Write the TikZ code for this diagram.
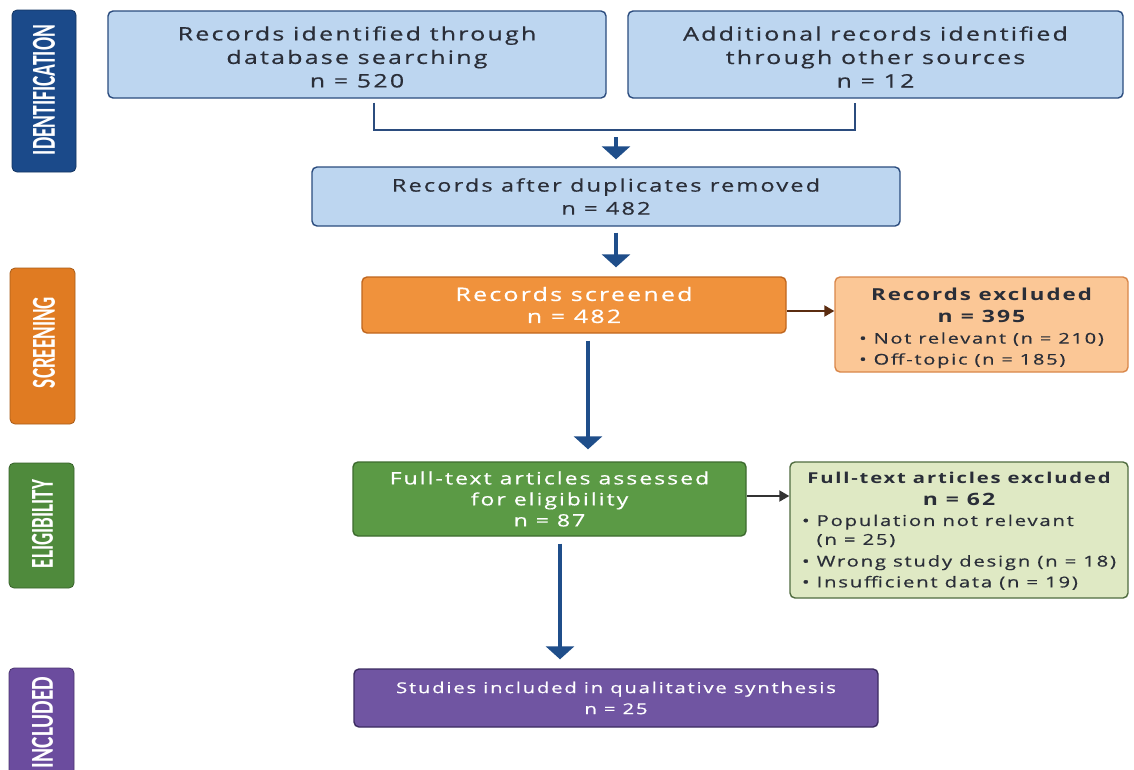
\documentclass[tikz,border=0pt]{standalone}
\usepackage{fontspec}
\setmainfont{Open Sans}[FakeStretch=1.35, LetterSpace=12, UprightFeatures={FakeBold=0.6}]
\newfontfamily\sidefont{Carlito}
\usetikzlibrary{arrows.meta,calc}
\definecolor{idblue}{HTML}{1B4A8A}
\definecolor{scrorange}{HTML}{E07B22}
\definecolor{eliggreen}{HTML}{4F8A3C}
\definecolor{inclpurple}{HTML}{6B4C9E}
\definecolor{lightblue}{HTML}{BDD6F0}
\definecolor{blueborder}{HTML}{2B4C7E}
\definecolor{arrowblue}{HTML}{1F4E8A}
\definecolor{orangefill}{HTML}{F0923C}
\definecolor{orangeborder}{HTML}{C0661E}
\definecolor{peachfill}{HTML}{FBC796}
\definecolor{peachborder}{HTML}{D9874A}
\definecolor{greenfill}{HTML}{5B9A45}
\definecolor{greenborder}{HTML}{3D6B2E}
\definecolor{lgreenfill}{HTML}{DFE9C4}
\definecolor{lgreenborder}{HTML}{506C40}
\definecolor{purplefill}{HTML}{7055A2}
\definecolor{purpleborder}{HTML}{3B2B60}
\definecolor{textdark}{HTML}{2A2E38}
\definecolor{brownarrow}{HTML}{5B2C10}
\definecolor{grayarrow}{HTML}{333333}
\begin{document}
\begin{tikzpicture}[x=1pt,y=-1pt,
  box/.style={draw, line width=1.4pt, rounded corners=5pt, inner sep=0pt, align=center},
  sidebar/.style={draw, line width=0.8pt, rounded corners=5pt, inner sep=0pt},
  sidetext/.style={rotate=90, inner sep=0pt, text=white},
  mainarrow/.style={draw=arrowblue, line width=4pt, -{Triangle[width=28pt,length=13pt]}},
  bracketline/.style={draw=blueborder, line width=1.6pt},
  smallarrow/.style={line width=2pt, -{Triangle[width=11pt,length=10pt]}}
]
\useasboundingbox[fill=white] (0,0) rectangle (1134,769);

% side bars
\node[sidebar, fill=idblue, draw=idblue!70!black, minimum width=64pt, minimum height=162pt] (s1) at (44,91) {};
\node[sidetext] (t1) at (44,90) {\resizebox{130pt}{22pt}{\sidefont\bfseries IDENTIFICATION}};
\node[sidebar, fill=scrorange, draw=scrorange!75!black, minimum width=65pt, minimum height=156pt] (s2) at (42.5,346) {};
\node[sidetext] (t2) at (44,342.5) {\resizebox{91pt}{22pt}{\sidefont\bfseries SCREENING}};
\node[sidebar, fill=eliggreen, draw=eliggreen!70!black, minimum width=65pt, minimum height=125pt] (s3) at (41.5,525.5) {};
\node[sidetext] (t3) at (42.5,524) {\resizebox{88pt}{21pt}{\sidefont\bfseries ELIGIBILITY}};
\node[sidebar, fill=inclpurple, draw=inclpurple!70!black, minimum width=65pt, minimum height=130pt] (s4) at (41.5,733) {};
\node[sidetext] (t4) at (42.5,722.5) {\resizebox{91pt}{21pt}{\sidefont\bfseries INCLUDED}};

% identification boxes
\node[box, fill=lightblue, draw=blueborder, text=textdark, font=\fontsize{18.5}{23.5}\selectfont, minimum width=498pt, minimum height=87pt] (A) at (357,54.5)
  {\rule{0pt}{19pt}Records identified through\\database searching\\n = 520};
\node[box, fill=lightblue, draw=blueborder, text=textdark, font=\fontsize{18.5}{23.5}\selectfont, minimum width=495pt, minimum height=87pt] (B) at (875.5,54.5)
  {\rule{0pt}{19pt}Additional records identified\\through other sources\\n = 12};
\node[box, fill=lightblue, draw=blueborder, text=textdark, font=\fontsize{17.5}{23}\selectfont, minimum width=588pt, minimum height=59pt] (C) at (606,196.5)
  {Records after duplicates removed\\n = 482};

% bracket
\coordinate (bl) at (374,130);
\coordinate (br) at (855,130);
\coordinate (bm) at (616,130);
\draw[bracketline] ([yshift=-4pt]A.south -| bl) -- (bl) -- (br) -- ([yshift=-4pt]B.south -| br);
\draw[mainarrow, shorten <=7pt, shorten >=7pt] (bm) -- (bm |- C.north);

% screening
\node[box, fill=orangefill, draw=orangeborder, text=white, font=\fontsize{18.5}{22}\selectfont, minimum width=424pt, minimum height=56pt] (D) at (574,305)
  {Records screened\\n = 482};
\coordinate (a2) at (616,0);
\draw[mainarrow, shorten <=6pt, shorten >=9pt] (C.south -| a2) -- (D.north -| a2);

\node[box, fill=peachfill, draw=peachborder, text=textdark, minimum width=293pt, minimum height=95pt] (E) at (981.5,324.5)
  {\fontsize{14.8}{21}\selectfont\begin{tabular}{@{}l@{}}
   \multicolumn{1}{@{}c@{}}{\rule{0pt}{22pt}\bfseries\fontsize{16.5}{20}\selectfont Records excluded}\\[1.5pt]
   \multicolumn{1}{@{}c@{}}{\bfseries\fontsize{17}{20}\selectfont n = 395}\\
   • Not relevant (n = 210)\\
   • Off-topic (n = 185)
  \end{tabular}};
\coordinate (yDE) at (0,311);
\draw[smallarrow, draw=brownarrow, fill=brownarrow] (D.east |- yDE) -- (E.west |- yDE);

% eligibility
\node[box, fill=greenfill, draw=greenborder, text=white, font=\fontsize{17}{21}\selectfont, minimum width=393pt, minimum height=74pt] (F) at (549.5,499)
  {Full-text articles assessed\\for eligibility\\n = 87};
\coordinate (a3) at (588,0);
\draw[mainarrow, shorten <=7pt, shorten >=12pt] (D.south -| a3) -- (F.north -| a3);

\node[box, fill=lgreenfill, draw=lgreenborder, text=textdark, minimum width=338pt, minimum height=136pt] (G) at (959,530)
  {\fontsize{15}{20.8}\selectfont\begin{tabular}{@{}l@{}}
   \multicolumn{1}{@{}c@{}}{\rule{0pt}{17pt}\bfseries\fontsize{15}{20}\selectfont Full-text articles excluded}\\[1pt]
   \multicolumn{1}{@{}c@{}}{\bfseries\fontsize{17}{20}\selectfont n = 62}\\
   • Population not relevant\\[-2pt]
   \phantom{• }(n = 25)\\[1pt]
   • Wrong study design (n = 18)\\
   • Insufficient data (n = 19)
  \end{tabular}};
\coordinate (yFG) at (0,496);
\draw[smallarrow, draw=grayarrow, fill=grayarrow] (F.east |- yFG) -- (G.west |- yFG);

% included
\node[box, fill=purplefill, draw=purpleborder, text=white, font=\fontsize{15}{21}\selectfont, minimum width=524pt, minimum height=58pt] (H) at (616,698)
  {Studies included in qualitative synthesis\\n = 25};
\coordinate (a4) at (560,0);
\draw[mainarrow, shorten <=7pt, shorten >=9pt] (F.south -| a4) -- (H.north -| a4);
\end{tikzpicture}
\end{document}
